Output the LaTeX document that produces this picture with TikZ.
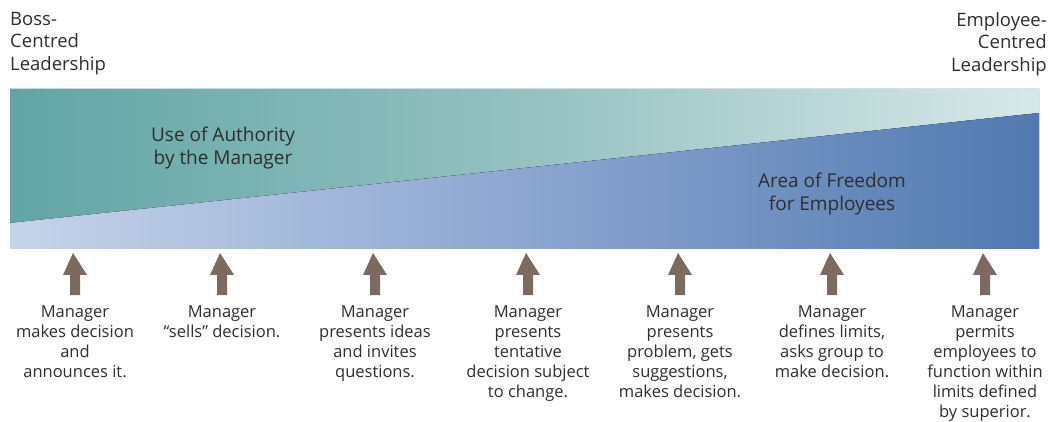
\documentclass[tikz,border=0pt]{standalone}
\usepackage{fontspec}
\setmainfont{Open Sans}
\definecolor{txt}{HTML}{2E2E2E}
\definecolor{tealL}{HTML}{62A5A5}
\definecolor{tealM}{HTML}{95C1C1}
\definecolor{tealR}{HTML}{D8E8E9}
\definecolor{blueL}{HTML}{C6D4EA}
\definecolor{blueM}{HTML}{8CA6D0}
\definecolor{blueR}{HTML}{5179B0}
\definecolor{arrowc}{HTML}{7B6A5D}
\tikzset{
  corner/.style={inner sep=0pt, text=txt, font=\fontsize{18.5}{22.5}\selectfont},
  area/.style={inner sep=0pt, text=txt, align=center, font=\fontsize{19}{22.5}\selectfont},
  label/.style={inner sep=0pt, text=txt, align=center, anchor=north, font=\fontsize{16.5}{20}\selectfont},
}
\newcommand{\uparrowat}[1]{%
  \fill[arrowc] (#1-2,253) -- (#1+12,275) -- (#1+5,275) -- (#1+5,295) -- (#1-5,295) -- (#1-5,275) -- (#1-12,275) -- cycle;}
\begin{document}
\begin{tikzpicture}[x=1pt,y=-1pt]
\useasboundingbox (0,0) rectangle (1050,422);
% upper area: authority
\fill[left color=tealL, right color=tealR, middle color=tealM] (10,89) -- (1039,89) -- (1039,113) -- (10,223) -- cycle;
% lower area: freedom
\fill[left color=blueL, right color=blueR, middle color=blueM] (10,223) -- (1039,113) -- (1039,249) -- (10,249) -- cycle;
\node[corner, anchor=north west, align=left] (boss) at (10,12) {Boss-\\Centred\\Leadership};
\node[corner, anchor=north east, align=right] (emp) at (1047,12) {Employee-\\Centred\\Leadership};
\node[area] (auth) at (223,148) {Use of Authority\\by the Manager};
\node[area] (free) at (832,194) {Area of Freedom\\for Employees};
\foreach \x in {75,222,375,528,680,832,985} {\uparrowat{\x}}
\node[label] (l1) at (75,306) {Manager\\makes decision\\and\\announces it.};
\node[label] (l2) at (222,306) {Manager\\“sells” decision.};
\node[label] (l3) at (375,306) {Manager\\presents ideas\\and invites\\questions.};
\node[label] (l4) at (528,306) {Manager\\presents\\tentative\\decision subject\\to change.};
\node[label] (l5) at (680,306) {Manager\\presents\\problem, gets\\suggestions,\\makes decision.};
\node[label] (l6) at (832,306) {Manager\\defines limits,\\asks group to\\make decision.};
\node[label] (l7) at (985,306) {Manager\\permits\\employees to\\function within\\limits defined\\by superior.};
\end{tikzpicture}
\end{document}
